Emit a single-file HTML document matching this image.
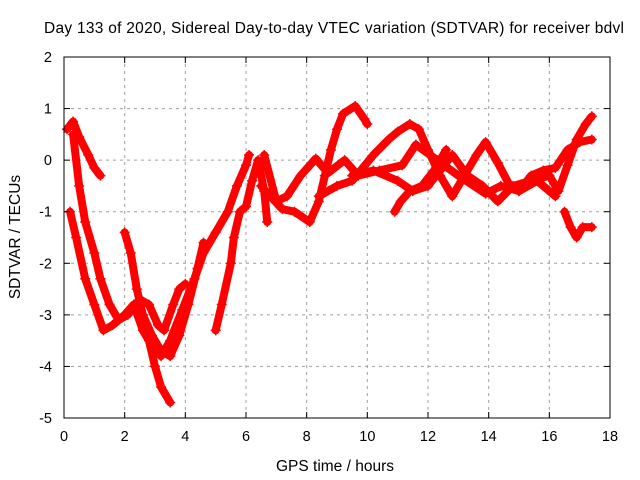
<!DOCTYPE html>
<html><head><meta charset="utf-8"><style>
body{margin:0;background:#fff}
svg{display:block;font-family:"Liberation Sans",sans-serif}
</style></head><body>
<svg id="chart" width="640" height="480" viewBox="0 0 640 480">
<rect width="640" height="480" fill="#fff"/>
<text x="44" y="33" font-size="15.5" textLength="580" lengthAdjust="spacing" fill="#000">Day 133 of 2020, Sidereal Day-to-day VTEC variation (SDTVAR) for receiver bdvl</text>
<g id="grid"></g>
<g id="series"></g>
<rect x="64" y="57" width="546" height="361" fill="none" stroke="#000" stroke-width="1"/>
<g id="ticks"></g>
<text x="335" y="471" font-size="15.5" text-anchor="middle">GPS time / hours</text>
<text transform="translate(20,237) rotate(-90)" font-size="15.5" text-anchor="middle">SDTVAR / TECUs</text>
</svg>
<script>
const xTicks=[0,2,4,6,8,10,12,14,16,18];
const yTicks=[2,1,0,-1,-2,-3,-4,-5];
const trA=[[0.1,0.6],[0.3,0.75],[0.5,0.45],[0.8,0.1],[1.0,-0.15],[1.2,-0.3]];
const trB=[[0.3,0.5],[0.5,-0.5],[0.7,-1.2],[1.0,-1.8],[1.2,-2.3],[1.5,-2.8],[1.8,-3.1],[2.1,-3.0],[2.5,-2.7],[2.8,-2.8],[3.1,-3.2],[3.3,-3.3],[3.6,-2.8],[3.8,-2.5],[4.0,-2.4]];
const trC=[[0.2,-1.0],[0.4,-1.5],[0.7,-2.3],[1.0,-2.8],[1.3,-3.3],[1.6,-3.2],[2.0,-3.0],[2.3,-2.8],[2.6,-3.3],[2.9,-3.6],[3.2,-3.8],[3.5,-3.5],[3.9,-2.9],[4.3,-2.3],[4.6,-1.8],[5.0,-1.4],[5.4,-1.0],[5.7,-0.5],[6.0,-0.1],[6.1,0.1]];
const trD=[[2.0,-1.4],[2.2,-1.8],[2.4,-2.5],[2.6,-3.0],[2.9,-3.4],[3.2,-3.7],[3.5,-3.8],[3.8,-3.4],[4.1,-2.8],[4.4,-2.1],[4.6,-1.6]];
const trE=[[2.6,-3.0],[2.8,-3.5],[3.0,-4.0],[3.2,-4.4],[3.5,-4.7]];
const trF=[[5.0,-3.3],[5.2,-2.8],[5.5,-2.0],[5.6,-1.5],[5.8,-1.0],[6.0,-0.9],[6.2,-0.4],[6.4,0.0],[6.6,-0.6],[6.7,-1.2]];
const trG=[[6.5,-0.5],[6.8,-0.7],[7.2,-0.95],[7.6,-1.0],[8.1,-1.2],[8.4,-0.8],[8.6,-0.3],[8.8,0.2],[9.0,0.6],[9.2,0.9],[9.6,1.05],[9.9,0.8],[10.0,0.7]];
const trH=[[6.6,0.1],[7.0,-0.8],[7.35,-0.7],[7.8,-0.3],[8.3,0.03],[8.7,-0.25],[9.25,0.0],[9.7,-0.3],[10.4,-0.2],[11.15,-0.1],[11.6,0.3],[12.3,0.0],[13.0,-0.3],[13.9,-0.65],[14.4,-0.5],[15.0,-0.6],[15.6,-0.4],[16.2,-0.7]];
const trI=[[8.4,-0.7],[9.0,-0.5],[9.5,-0.4],[10.2,0.1],[10.7,0.4],[11.0,0.55],[11.4,0.7],[11.7,0.6],[12.0,0.2],[12.4,-0.3],[12.8,-0.7],[13.2,-0.3],[13.6,0.1],[13.9,0.35],[14.3,-0.05],[14.7,-0.5],[15.0,-0.6],[15.4,-0.3],[15.8,-0.2],[16.2,-0.15],[16.6,0.2],[17.0,0.35],[17.4,0.4]];
const trJ=[[9.5,-0.3],[10.2,-0.2],[11.0,-0.4],[11.5,-0.6],[12.0,-0.5],[12.4,-0.2],[12.8,0.1],[13.3,-0.3],[13.8,-0.5],[14.3,-0.8],[14.8,-0.5],[15.4,-0.4],[16.0,-0.3],[16.3,-0.6],[16.6,-0.1],[16.9,0.4],[17.2,0.7],[17.4,0.85]];
const trK=[[10.9,-1.0],[11.1,-0.8],[11.4,-0.6],[11.8,-0.5],[12.2,-0.2],[12.6,0.2]];
const trL=[[16.5,-1.0],[16.7,-1.3],[16.9,-1.5],[17.1,-1.3],[17.4,-1.3]];
const traces=[trA,trB,trC,trD,trE,trF,trG,trH,trI,trJ,trK,trL];
const NS='http://www.w3.org/2000/svg';
const X=t=>64+t*(546/18);
const Y=v=>57+(2-v)*(361/7);
const grid=document.getElementById('grid'),ticks=document.getElementById('ticks'),ser=document.getElementById('series');
function mk(tag,attrs,parent){const e=document.createElementNS(NS,tag);for(const k in attrs)e.setAttribute(k,attrs[k]);parent.appendChild(e);return e;}
xTicks.forEach(t=>{
  const x=X(t);
  if(t>0&&t<18){const g=mk('line',{x1:x,x2:x,y1:57,y2:418,stroke:'#a0a0a0','stroke-dasharray':'3,4'},grid);
  
  }
  const lb=mk('text',{x:x,y:441,'font-size':'14.5','text-anchor':'middle'},ticks);
  
  
  lb.textContent=t;
  mk('line',{x1:x,x2:x,y1:418,y2:412,stroke:'#000'},ticks);
  mk('line',{x1:x,x2:x,y1:57,y2:63,stroke:'#000'},ticks);
});
yTicks.forEach(v=>{
  const y=Y(v);
  if(v<2&&v>-5){const g=mk('line',{x1:64,x2:610,y1:y,y2:y,stroke:'#a0a0a0','stroke-dasharray':'3,4'},grid);
  
  }
  const lb=mk('text',{x:52,y:y+5,'font-size':'14.5','text-anchor':'end'},ticks);
  
  
  lb.textContent=v;
  mk('line',{x1:64,x2:70,y1:y,y2:y,stroke:'#000'},ticks);
  mk('line',{x1:610,x2:604,y1:y,y2:y,stroke:'#000'},ticks);
});
traces.forEach((tr,i)=>{
  const pl=mk('polyline',{points:tr.map(p=>X(p[0])+','+Y(p[1])).join(' '),fill:'none',stroke:'#f00','stroke-width':8,'stroke-linejoin':'round','stroke-linecap':'round'},ser);
  
  
  tr.forEach(p=>{
    const x=X(p[0]),y=Y(p[1]);
    const m=mk('path',{d:`M${x-5},${y}H${x+5}M${x},${y-5}V${y+5}`,stroke:'#f00','stroke-width':1.5},ser);
    
    
  });
});
</script>
</body></html>
